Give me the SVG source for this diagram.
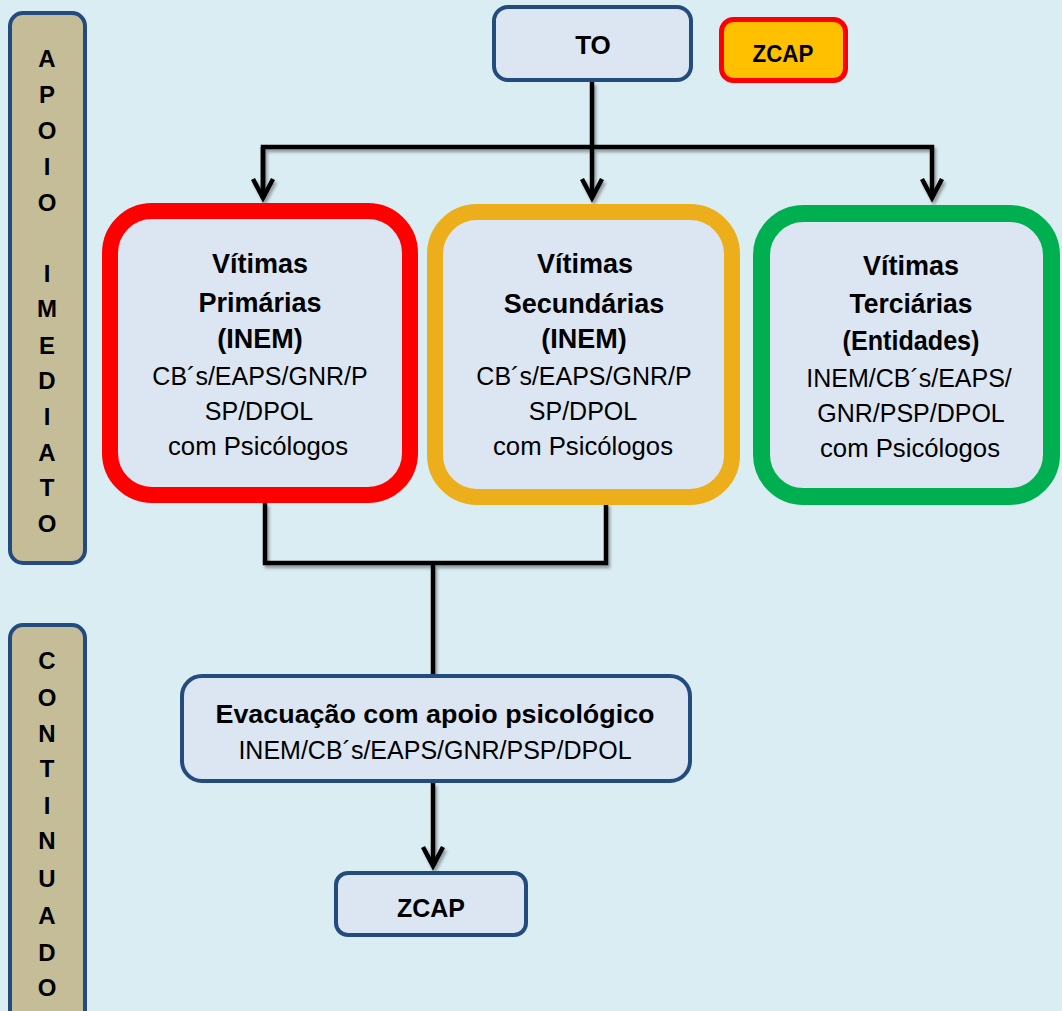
<svg xmlns="http://www.w3.org/2000/svg" width="1062" height="1011" viewBox="0 0 1062 1011">
<defs>
<style>
.bg{fill:#DAEDF3}
.blue{fill:#DCE6F2;stroke:#234B7D;stroke-width:4}
.bar{fill:#C4BD97;stroke:#234B7D;stroke-width:4}
.vbox{fill:#DCE6F2}
.b{font-family:"Liberation Sans",Arial,sans-serif;font-weight:bold;fill:#000;text-anchor:middle}
.r{font-family:"Liberation Sans",Arial,sans-serif;fill:#000;text-anchor:middle}
.t27{font-size:27px}
.t25{font-size:25px}
.side{font-family:"Liberation Sans",Arial,sans-serif;font-weight:bold;font-size:24px;fill:#000;text-anchor:middle}
.conn{fill:none;stroke:#000;stroke-width:4.5}
</style>
<marker id="chev" markerUnits="userSpaceOnUse" orient="auto" refX="0" refY="0" markerWidth="30" markerHeight="30" viewBox="-25 -15 30 30" overflow="visible">
<path d="M-19,-10 L0,0 L-19,10" fill="none" stroke="#000" stroke-width="4.5" stroke-linejoin="miter"/>
</marker>
<filter id="sh" x="-10%" y="-10%" width="120%" height="130%">
<feDropShadow dx="2" dy="3" stdDeviation="1.5" flood-color="#000" flood-opacity="0.35"/>
</filter>
</defs>
<rect class="bg" x="0" y="0" width="1062" height="1011"/>

<g id="side-apoio">
<rect class="bar" x="10" y="13" width="75" height="550" rx="13"/>
<text class="side" x="47" y="67">A</text>
<text class="side" x="47" y="103">P</text>
<text class="side" x="47" y="139">O</text>
<text class="side" x="47" y="175">I</text>
<text class="side" x="47" y="211">O</text>
<text class="side" x="47" y="282">I</text>
<text class="side" x="47" y="317">M</text>
<text class="side" x="47" y="354">E</text>
<text class="side" x="47" y="389">D</text>
<text class="side" x="47" y="425">I</text>
<text class="side" x="47" y="461">A</text>
<text class="side" x="47" y="496">T</text>
<text class="side" x="47" y="532">O</text>
</g>

<g id="side-continuado">
<rect class="bar" x="10" y="625" width="75" height="420" rx="13"/>
<text class="side" x="47" y="669">C</text>
<text class="side" x="47" y="706">O</text>
<text class="side" x="47" y="742">N</text>
<text class="side" x="47" y="777">T</text>
<text class="side" x="47" y="814">I</text>
<text class="side" x="47" y="849">N</text>
<text class="side" x="47" y="887">U</text>
<text class="side" x="47" y="924">A</text>
<text class="side" x="47" y="961">D</text>
<text class="side" x="47" y="996">O</text>
</g>

<g id="connectors" filter="url(#sh)">
<path class="conn" d="M592,82 V198" marker-end="url(#chev)"/>
<path class="conn" d="M263,198 V147 H932 V198" marker-end="url(#chev)"/>
<path class="conn" d="M263,147 V198" marker-end="url(#chev)"/>
<path class="conn" d="M265,503 V563 H606 V503"/>
<path class="conn" d="M433,563 V674"/>
<path class="conn" d="M433,783 V866" marker-end="url(#chev)"/>
</g>

<g id="node-to">
<rect class="blue" x="494" y="7" width="197" height="73" rx="14"/>
<text class="b" x="593" y="54" font-size="26">TO</text>
</g>

<g id="node-zcap-top">
<rect x="721.5" y="19.5" width="124" height="61" rx="12" fill="#FFC000" stroke="#FF0000" stroke-width="5"/>
<text class="b" x="783" y="62" font-size="24" textLength="61" lengthAdjust="spacingAndGlyphs">ZCAP</text>
</g>

<g id="node-primarias">
<rect class="vbox" x="110" y="211" width="300" height="284" rx="42" stroke="#FF0000" stroke-width="16"/>
<text class="b t27" x="260" y="273">Vítimas</text>
<text class="b t27" x="260" y="312">Primárias</text>
<text class="b t27" x="260" y="348">(INEM)</text>
<text class="r t25" x="260" y="385">CB´s/EAPS/GNR/P</text>
<text class="r t25" x="259" y="420">SP/DPOL</text>
<text class="r t25" x="258" y="455" textLength="180" lengthAdjust="spacingAndGlyphs">com Psicólogos</text>
</g>

<g id="node-secundarias">
<rect class="vbox" x="435" y="212" width="297" height="285" rx="42" stroke="#ECAE1A" stroke-width="16"/>
<text class="b t27" x="585" y="273">Vítimas</text>
<text class="b t27" x="584" y="313">Secundárias</text>
<text class="b t27" x="584" y="348">(INEM)</text>
<text class="r t25" x="584" y="385">CB´s/EAPS/GNR/P</text>
<text class="r t25" x="583" y="420">SP/DPOL</text>
<text class="r t25" x="583" y="455" textLength="180" lengthAdjust="spacingAndGlyphs">com Psicólogos</text>
</g>

<g id="node-terciarias">
<rect class="vbox" x="761.5" y="213.5" width="290" height="283" rx="42" stroke="#00B050" stroke-width="17"/>
<text class="b t27" x="911" y="275">Vítimas</text>
<text class="b t27" x="911" y="313" textLength="123" lengthAdjust="spacingAndGlyphs">Terciárias</text>
<text class="b t27" x="911" y="350" textLength="137" lengthAdjust="spacingAndGlyphs">(Entidades)</text>
<text class="r t25" x="909" y="387">INEM/CB´s/EAPS/</text>
<text class="r t25" x="911" y="422">GNR/PSP/DPOL</text>
<text class="r t25" x="910" y="457" textLength="180" lengthAdjust="spacingAndGlyphs">com Psicólogos</text>
</g>

<g id="node-evacuacao">
<rect class="blue" x="182" y="676" width="508" height="105" rx="20"/>
<text class="b" x="435" y="723" font-size="26" textLength="439" lengthAdjust="spacingAndGlyphs">Evacuação com apoio psicológico</text>
<text class="r t25" x="435" y="759">INEM/CB´s/EAPS/GNR/PSP/DPOL</text>
</g>

<g id="node-zcap-bottom">
<rect class="blue" x="336" y="873" width="190" height="62" rx="12"/>
<text class="b" x="431" y="917" font-size="25" textLength="68" lengthAdjust="spacingAndGlyphs">ZCAP</text>
</g>
</svg>
